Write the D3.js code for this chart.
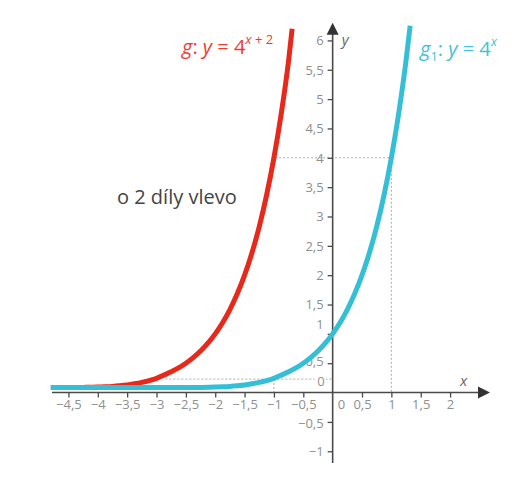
<!DOCTYPE html>
<html><head><meta charset="utf-8">
<script src="https://cdn.jsdelivr.net/npm/d3@7"></script>
<style>body{margin:0;background:#fff}text{font-family:"Open Sans",sans-serif}</style>
</head><body>
<svg id="c" width="520" height="491"></svg>
<script>
// data: points (g1: y = 4^x, g: shifted 2 units left)
const g1X = [-4.8,-4.5,-4,-3.5,-3,-2.5,-2.25,-2,-1.875,-1.75,-1.625,-1.5,-1.375,-1.25,-1.125,-1,-0.875,-0.75,-0.625,-0.5,-0.375,-0.25,-0.125,0,0.125,0.25,0.375,0.5,0.625,0.75,0.875,1,1.125,1.25,1.32];
const g1Y = [0.085,0.085,0.085,0.085,0.085,0.086,0.088,0.093,0.098,0.105,0.116,0.13,0.15,0.174,0.204,0.242,0.297,0.354,0.42,0.5,0.595,0.707,0.841,1,1.189,1.414,1.682,2,2.378,2.828,3.364,4,4.757,5.657,6.25];
const gX  = [-4.8,-4.5,-4.25,-4,-3.875,-3.75,-3.625,-3.5,-3.375,-3.25,-3.125,-3,-2.875,-2.75,-2.625,-2.5,-2.375,-2.25,-2.125,-2,-1.875,-1.75,-1.625,-1.5,-1.375,-1.25,-1.125,-1,-0.875,-0.75,-0.69];
const gY  = [0.085,0.085,0.088,0.093,0.098,0.105,0.116,0.13,0.15,0.174,0.204,0.242,0.297,0.354,0.42,0.5,0.595,0.707,0.841,1,1.189,1.414,1.682,2,2.378,2.828,3.364,4,4.757,5.657,6.2];
const xTicks = [-4.5,-4,-3.5,-3,-2.5,-2,-1.5,-1,-0.5,0.5,1,1.5,2];
const yTicks = [-1,-0.5,0.5,1,1.5,2,2.5,3,3.5,4,4.5,5,5.5,6];
const guideY = 0.23;

const svg = d3.select("#c");
const x = d3.scaleLinear().domain([-4.78, 2.68]).range([52, 490]);
const y = d3.scaleLinear().domain([-1.2, 6.3]).range([463, 22.8]);
const fmt = v => String(v).replace(".", ",").replace("-", "\u2212");
const axisCol = "#4a4a4a", labCol = "#8f8f8f";

// dashed guides
const dash = svg.append("g").attr("stroke", "#aaa").attr("stroke-width", 1).attr("stroke-dasharray", "2,2");
dash.append("line").attr("x1", x(-0.98)).attr("x2", x(1)).attr("y1", y(4)).attr("y2", y(4));
dash.append("line").attr("x1", x(1)).attr("x2", x(1)).attr("y1", y(4)).attr("y2", y(0));
dash.append("line").attr("x1", x(-2.85)).attr("x2", x(0)).attr("y1", y(guideY)).attr("y2", y(guideY));
dash.append("line").attr("x1", x(-1)).attr("x2", x(-1)).attr("y1", y(guideY)).attr("y2", y(0));

// x axis
const gx = svg.append("g").attr("transform", `translate(0,${y(0)})`)
  .call(d3.axisBottom(x).tickValues(xTicks).tickFormat(fmt).tickSize(5).tickSizeOuter(0));
gx.select(".domain").remove();
gx.selectAll(".tick line").attr("stroke", axisCol).attr("stroke-width", 1.3);
gx.selectAll(".tick text").attr("fill", labCol).attr("font-size", 13).attr("y", 5).attr("dy", "0.85em");
svg.append("line").attr("x1", x(-4.78)).attr("x2", x(2.6)).attr("y1", y(0)).attr("y2", y(0))
  .attr("stroke", axisCol).attr("stroke-width", 1.6);
svg.append("path").attr("d", `M${x(2.68)},${y(0)} l-12,-6 l0,12 z`).attr("fill", "#333");

// y axis
const gy = svg.append("g").attr("transform", `translate(${x(0)},0)`)
  .call(d3.axisLeft(y).tickValues(yTicks).tickFormat(fmt).tickSize(5).tickSizeOuter(0));
gy.select(".domain").remove();
gy.selectAll(".tick line").attr("stroke", axisCol).attr("stroke-width", 1.3);
gy.selectAll(".tick text").attr("fill", labCol).attr("font-size", 13).attr("x", -9)
  .attr("dy", d => d === 1 ? "-0.45em" : d === -0.5 ? "0.45em" : d === 0.5 ? "0.2em" : "0.34em");
svg.append("line").attr("x1", x(0)).attr("x2", x(0)).attr("y1", y(-1.2)).attr("y2", y(6.2))
  .attr("stroke", axisCol).attr("stroke-width", 1.6);
svg.append("path").attr("d", `M${x(0)},${y(6.3)} l-6,12 l12,0 z`).attr("fill", "#333");

// zero labels
svg.append("text").attr("x", x(0) + 5).attr("y", y(0) + 5).attr("dy", "0.85em").attr("font-size", 13)
  .attr("fill", labCol).text("0");
svg.append("rect").attr("x", x(0) - 18).attr("y", y(guideY) - 5).attr("width", 11).attr("height", 13).attr("fill", "#fff");
svg.append("text").attr("x", x(0) - 8).attr("y", y(guideY) + 2).attr("dy", "0.38em").attr("text-anchor", "end")
  .attr("font-size", 13).attr("fill", labCol).text("0");

// axis names
svg.append("text").attr("x", x(0) + 9).attr("y", 45).attr("font-size", 15).attr("font-style", "italic")
  .attr("fill", "#666").text("y");
svg.append("text").attr("x", 460).attr("y", 386).attr("font-size", 15).attr("font-style", "italic")
  .attr("fill", "#666").text("x");

// curves
const line = d3.line().x(d => x(d[0])).y(d => y(d[1])).curve(d3.curveMonotoneX);
svg.append("path").datum(d3.zip(gX, gY)).attr("d", line).attr("fill", "none")
  .attr("stroke", "#e8281b").attr("stroke-width", 5).attr("stroke-linecap", "butt");
svg.append("path").datum(d3.zip(g1X, g1Y)).attr("d", line).attr("fill", "none")
  .attr("stroke", "#35bfd6").attr("stroke-width", 5).attr("stroke-linecap", "butt");

// labels
const t1 = svg.append("text").attr("x", 182).attr("y", 54).attr("font-size", 20).attr("fill", "#ee3b30");
t1.append("tspan").attr("font-style", "italic").text("g");
t1.append("tspan").text(": ");
t1.append("tspan").attr("font-style", "italic").text("y");
t1.append("tspan").text(" = 4");
t1.append("tspan").attr("font-size", 13).attr("dy", -10).attr("font-style", "italic").text("x");
t1.append("tspan").attr("font-size", 13).text(" + 2");

const t2 = svg.append("text").attr("x", 420).attr("y", 56).attr("font-size", 20).attr("fill", "#3ec3d8");
t2.append("tspan").attr("font-style", "italic").text("g");
t2.append("tspan").attr("font-size", 13).attr("dy", 5).text("1");
t2.append("tspan").attr("dy", -5).text(": ");
t2.append("tspan").attr("font-style", "italic").text("y");
t2.append("tspan").text(" = 4");
t2.append("tspan").attr("font-size", 13).attr("dy", -10).attr("font-style", "italic").text("x");

svg.append("text").attr("x", 117).attr("y", 204).attr("font-size", 20).attr("fill", "#444").text("o 2 díly vlevo");
</script>
</body></html>
